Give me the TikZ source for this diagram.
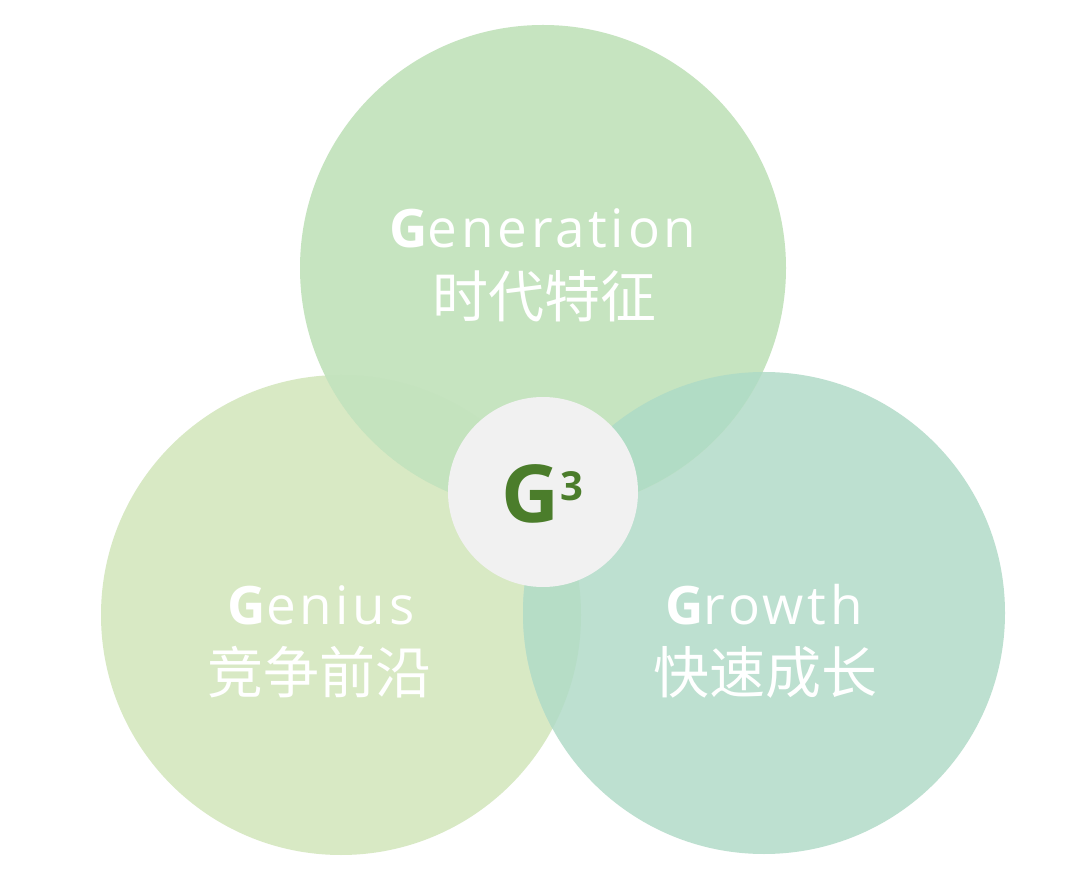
\documentclass[tikz,border=0pt]{standalone}
\usepackage{fontspec}
\setmainfont{Open Sans}
\newfontfamily\latsp[LetterSpace=7]{Open Sans}
\newfontfamily\cjk{Noto Sans CJK SC}
\definecolor{ctop}{HTML}{C6E4C0}
\definecolor{cleft}{HTML}{D8E9C4}
\definecolor{cright}{HTML}{BDE0D0}
\definecolor{ctl}{HTML}{C4E3BE}
\definecolor{ctr}{HTML}{B1DCC5}
\definecolor{clr}{HTML}{B6DDC6}
\definecolor{ccenter}{HTML}{F1F1F1}
\definecolor{gdark}{HTML}{4B7D2B}
\begin{document}
\begin{tikzpicture}[x=1pt,y=-1pt,
  lat/.style={text=white,inner sep=0pt,font=\latsp\fontsize{53}{58}\selectfont},
  han/.style={text=white,inner sep=0pt,font=\cjk\fontsize{56}{62}\selectfont}]
\useasboundingbox[fill=white] (0,0) rectangle (1080,882);
% circles
\fill[cleft] (341,615) circle (240);
\fill[cright] (764,613) circle (241);
\fill[ctop] (543,268) circle (243);
% lens overlaps
\begin{scope}
  \clip (543,268) circle (243);
  \fill[ctl] (341,615) circle (240);
  \fill[ctr] (764,613) circle (241);
\end{scope}
\begin{scope}
  \clip (341,615) circle (240);
  \fill[clr] (764,613) circle (241);
\end{scope}
% centre
\fill[ccenter] (543,492) circle (95);
\node[inner sep=0pt,text=gdark,font=\fontsize{80}{84}\selectfont\bfseries] (g3) at (542,494) {G\hspace{1pt}\raisebox{22pt}{\fontsize{40}{42}\selectfont 3}};
% labels
\node[lat] (gen) at (543,228) {{\bfseries G}eneration};
\node[han] (genc) at (544,296) {时代特征};
\node[lat] (genius) at (321,605) {{\bfseries G}enius};
\node[han] (geniusc) at (319,672) {竞争前沿};
\node[lat] (growth) at (764,605) {{\bfseries G}rowth};
\node[han] (growthc) at (765,672) {快速成长};
\end{tikzpicture}
\end{document}
